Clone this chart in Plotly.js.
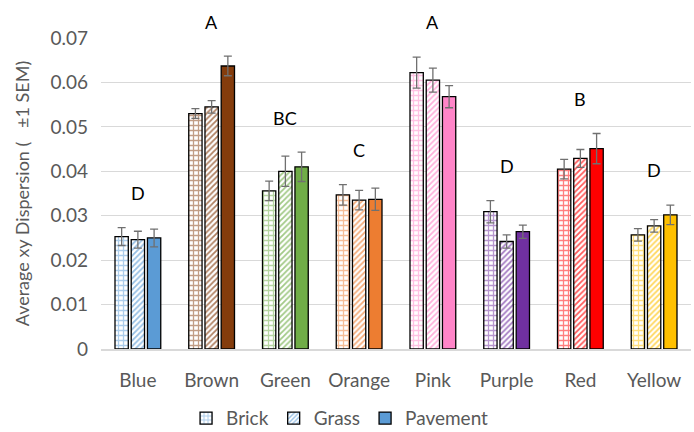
<!DOCTYPE html>
<html><head><meta charset="utf-8">
<script src="https://cdn.plot.ly/plotly-3.0.1.min.js"></script>
<style>body{margin:0;background:#fff}#c{width:694px;height:432px}</style>
</head><body><div id="c"></div>
<script>
const categories = ["Blue","Brown","Green","Orange","Pink","Purple","Red","Yellow"];
const colors = ["#5B9BD5","#843C0C","#70AD47","#ED7D31","#FF85C8","#7030A0","#FF0000","#FFC000"];
const brick = [0.0253,0.0530,0.0356,0.0347,0.0622,0.0309,0.0405,0.0257];
const brickErr = [0.0020,0.0011,0.0022,0.0023,0.0035,0.0025,0.0022,0.0014];
const grass = [0.0246,0.0545,0.0400,0.0335,0.0605,0.0242,0.0429,0.0277];
const grassErr = [0.0019,0.0014,0.0034,0.0022,0.0027,0.0015,0.0020,0.0014];
const pavement = [0.0250,0.0637,0.0410,0.0337,0.0568,0.0264,0.0451,0.0302];
const pavementErr = [0.0020,0.0022,0.0033,0.0025,0.0025,0.0015,0.0034,0.0022];
const letters = ["D","A","BC","C","A","D","B","D"];

const font = "Lato, 'Open Sans', sans-serif";
const yMax = 0.07;
const errStyle = {type:'data', visible:true, color:'#707070', thickness:1.3, width:4};
const lineStyle = {color:'#000000', width:1.3};

const traces = [
  {type:'bar', name:'Brick', x:categories, y:brick,
   error_y:Object.assign({array:brickErr}, errStyle),
   marker:{color:'#ffffff', line:lineStyle,
     pattern:{shape:'+', fgcolor:colors, fillmode:'overlay', size:5, solidity:0.45}}},
  {type:'bar', name:'Grass', x:categories, y:grass,
   error_y:Object.assign({array:grassErr}, errStyle),
   marker:{color:'#ffffff', line:lineStyle,
     pattern:{shape:'/', fgcolor:colors, fgopacity:0.65, fillmode:'overlay', size:4, solidity:0.45}}},
  {type:'bar', name:'Pavement', x:categories, y:pavement,
   error_y:Object.assign({array:pavementErr}, errStyle),
   marker:{color:colors, line:lineStyle}}
];

const annotations = categories.map((c,i)=>{
  const top = Math.max(brick[i]+brickErr[i], grass[i]+grassErr[i], pavement[i]+pavementErr[i]);
  return {x:c, y:(top+0.0078)/yMax, xref:'x', yref:'paper', yanchor:'middle', text:letters[i],
          showarrow:false, font:{family:font, size:18, color:'#000000'}};
});

const layout = {
  width:694, height:432,
  margin:{l:101, r:3, t:38, b:83, autoexpand:false},
  paper_bgcolor:'#ffffff', plot_bgcolor:'#ffffff',
  font:{family:font, color:'#595959'},
  barmode:'group', bargap:0.34, bargroupgap:0.18,
  showlegend:true,
  legend:{orientation:'h', xref:'container', yref:'container', x:0.49, xanchor:'center',
          y:0.032, yanchor:'middle',
          font:{family:font, size:19, color:'#595959'}, traceorder:'normal', itemwidth:30},
  xaxis:{type:'category', showgrid:false, showline:true, linecolor:'#D9D9D9', linewidth:1.5,
         ticks:'', ticklabelstandoff:14, automargin:false,
         tickfont:{family:font, size:19, color:'#595959'}},
  yaxis:{range:[0,yMax], dtick:0.01, tick0:0, showgrid:true, gridcolor:'#D9D9D9', gridwidth:1,
         zeroline:false, showline:false, ticks:'', ticklabelstandoff:12, automargin:false,
         tickfont:{family:font, size:19, color:'#595959'},
         title:{text:'Average xy Dispersion ( \u00a0\u00a0±1 SEM)', standoff:16,
                font:{family:font, size:18, color:'#595959'}}},
  annotations:annotations
};
Plotly.newPlot('c', traces, layout, {displayModeBar:false, staticPlot:true});
</script></body></html>
